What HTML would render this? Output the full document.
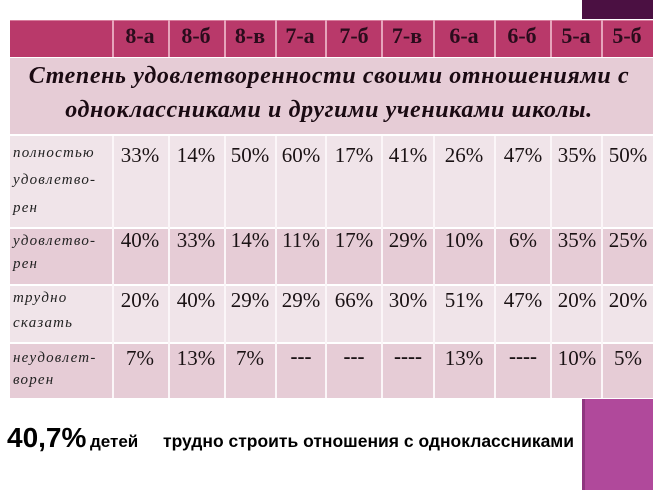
<!DOCTYPE html>
<html>
<head>
<meta charset="utf-8">
<style>
html,body{margin:0;padding:0;background:#fff;}
svg{display:block;}
.h{font-family:"Liberation Serif","DejaVu Serif",serif;font-weight:bold;font-size:22px;fill:#2a0c1c;}
.t{font-family:"Liberation Serif","DejaVu Serif",serif;font-weight:bold;font-style:italic;font-size:24px;fill:#1a0a12;letter-spacing:0.6px;}
.n{font-family:"Liberation Serif","DejaVu Serif",serif;font-size:21px;fill:#1a1214;}
.d{font-family:"Liberation Serif","DejaVu Serif",serif;font-size:21px;font-weight:bold;fill:#1a1214;}
.l{font-family:"Liberation Serif","DejaVu Serif",serif;font-style:italic;font-size:15px;fill:#222;letter-spacing:1.2px;}
.b{font-family:"Liberation Sans","DejaVu Sans",sans-serif;font-weight:bold;fill:#000;}
</style>
</head>
<body>
<svg width="653" height="490" viewBox="0 0 653 490" xmlns="http://www.w3.org/2000/svg">
<rect x="0" y="0" width="653" height="490" fill="#ffffff"/>
<rect x="582" y="0" width="71" height="19" fill="#4b1042"/>
<rect x="582" y="399" width="71" height="91" fill="#b0499b"/>
<rect x="582" y="399" width="3" height="91" fill="#7a2a6c" opacity="0.6"/>

<rect x="10" y="20" width="643" height="37" fill="#b9396a"/>
<rect x="10" y="20" width="643" height="1" fill="#d77c9c"/>
<g fill="#e6a4bb">
<rect x="112" y="20" width="2" height="37"/>
<rect x="168" y="20" width="2" height="37"/>
<rect x="224" y="20" width="2" height="37"/>
<rect x="275" y="20" width="2" height="37"/>
<rect x="325" y="20" width="2" height="37"/>
<rect x="381" y="20" width="2" height="37"/>
<rect x="433" y="20" width="2" height="37"/>
<rect x="494" y="20" width="2" height="37"/>
<rect x="550" y="20" width="2" height="37"/>
<rect x="601" y="20" width="2" height="37"/>
</g>
<rect x="10" y="58" width="643" height="76" fill="#e6ccd6"/>
<rect x="10" y="136" width="643" height="91" fill="#f0e4e9"/>
<rect x="10" y="229" width="643" height="55" fill="#e6ccd6"/>
<rect x="10" y="286" width="643" height="56" fill="#f0e4e9"/>
<rect x="10" y="344" width="643" height="54" fill="#e6ccd6"/>
<g fill="#fbf6f8">
<rect x="112" y="136" width="2" height="262"/>
<rect x="168" y="136" width="2" height="262"/>
<rect x="224" y="136" width="2" height="262"/>
<rect x="275" y="136" width="2" height="262"/>
<rect x="325" y="136" width="2" height="262"/>
<rect x="381" y="136" width="2" height="262"/>
<rect x="433" y="136" width="2" height="262"/>
<rect x="494" y="136" width="2" height="262"/>
<rect x="550" y="136" width="2" height="262"/>
<rect x="601" y="136" width="2" height="262"/>
</g>

<g class="h" text-anchor="middle">
<text x="140" y="43">8-а</text>
<text x="196" y="43">8-б</text>
<text x="250" y="43">8-в</text>
<text x="300" y="43">7-а</text>
<text x="354" y="43">7-б</text>
<text x="407" y="43">7-в</text>
<text x="464" y="43">6-а</text>
<text x="522" y="43">6-б</text>
<text x="576" y="43">5-а</text>
<text x="627" y="43">5-б</text>
</g>

<text class="t" x="329" y="83" text-anchor="middle">Степень удовлетворенности своими отношениями с</text>
<text class="t" x="329" y="117" text-anchor="middle">одноклассниками и другими учениками школы.</text>

<g class="l">
<text x="13" y="157">полностью</text>
<text x="13" y="184">удовлетво-</text>
<text x="13" y="212">рен</text>
<text x="13" y="245">удовлетво-</text>
<text x="13" y="268">рен</text>
<text x="13" y="302">трудно</text>
<text x="13" y="327">сказать</text>
<text x="13" y="362">неудовлет-</text>
<text x="13" y="384">ворен</text>
</g>

<g class="n" text-anchor="middle">
<text x="140" y="162">33%</text>
<text x="196" y="162">14%</text>
<text x="250" y="162">50%</text>
<text x="301" y="162">60%</text>
<text x="354" y="162">17%</text>
<text x="408" y="162">41%</text>
<text x="464" y="162">26%</text>
<text x="523" y="162">47%</text>
<text x="577" y="162">35%</text>
<text x="628" y="162">50%</text>
</g>
<g class="n" text-anchor="middle">
<text x="140" y="247">40%</text>
<text x="196" y="247">33%</text>
<text x="250" y="247">14%</text>
<text x="301" y="247">11%</text>
<text x="354" y="247">17%</text>
<text x="408" y="247">29%</text>
<text x="464" y="247">10%</text>
<text x="523" y="247">6%</text>
<text x="577" y="247">35%</text>
<text x="628" y="247">25%</text>
</g>
<g class="n" text-anchor="middle">
<text x="140" y="307">20%</text>
<text x="196" y="307">40%</text>
<text x="250" y="307">29%</text>
<text x="301" y="307">29%</text>
<text x="354" y="307">66%</text>
<text x="408" y="307">30%</text>
<text x="464" y="307">51%</text>
<text x="523" y="307">47%</text>
<text x="577" y="307">20%</text>
<text x="628" y="307">20%</text>
</g>
<g class="n" text-anchor="middle">
<text x="140" y="365">7%</text>
<text x="196" y="365">13%</text>
<text x="250" y="365">7%</text>
<text x="464" y="365">13%</text>
<text x="577" y="365">10%</text>
<text x="628" y="365">5%</text>
</g>
<g class="d" text-anchor="middle">
<text x="301" y="363">---</text>
<text x="354" y="363">---</text>
<text x="408" y="363">----</text>
<text x="523" y="363">----</text>
</g>

<text class="b" x="7" y="447" font-size="28">40,7%</text>
<text class="b" x="90" y="447" font-size="17">детей</text>
<text class="b" x="163" y="447" font-size="17.5" textLength="411" lengthAdjust="spacingAndGlyphs">трудно строить отношения с одноклассниками</text>
</svg>
</body>
</html>
